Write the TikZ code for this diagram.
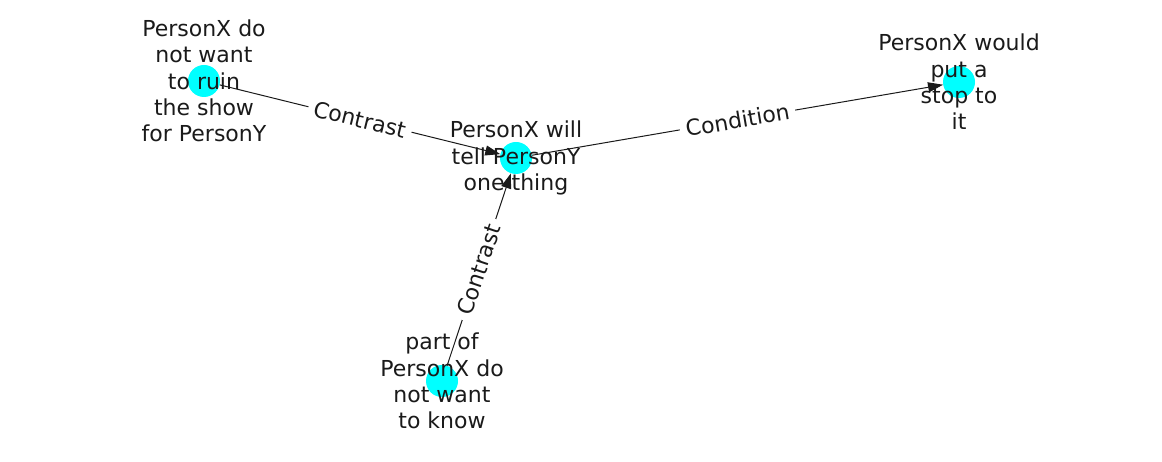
\documentclass[tikz,border=0pt]{standalone}
\usepackage{fontspec}
\setmainfont{DejaVu Sans}
\usetikzlibrary{arrows.meta}
\definecolor{nodecyan}{RGB}{0,255,255}
\definecolor{ink}{RGB}{26,26,26}
\begin{document}
\begin{tikzpicture}[x=1bp,y=-1bp,
  dot/.style={circle,fill=nodecyan,draw=none,minimum size=32bp,inner sep=0pt},
  lbl/.style={align=center,text=ink,font=\fontsize{22bp}{26.4bp}\selectfont,inner sep=0pt},
  elbl/.style={midway,sloped,fill=white,text=ink,font=\fontsize{22bp}{26.4bp}\selectfont,inner sep=6bp},
  edge/.style={draw=ink,line width=1bp,-{Triangle[length=15bp,width=10bp]}}]
\useasboundingbox (0,0) rectangle (1162,462);
\node[dot] (a) at (204,81) {};
\node[dot] (b) at (516,158) {};
\node[dot] (c) at (959,82) {};
\node[dot] (d) at (442,381) {};
\path[edge] (a) -- node[elbl] {Contrast} (b);
\path[edge] (b) -- node[elbl] {Condition} (c);
\path[edge] (d) -- node[elbl] {Contrast} (b);
\node[lbl] (ta) at (204,81) {PersonX do\\not want\\to ruin\\the show\\for PersonY};
\node[lbl] (tb) at (516,158) {PersonX will\\tell PersonY\\one thing};
\node[lbl] (tc) at (959,82) {PersonX would\\put a\\stop to\\it};
\node[lbl] (td) at (442,381) {part of\\PersonX do\\not want\\to know};
\end{tikzpicture}
\end{document}
